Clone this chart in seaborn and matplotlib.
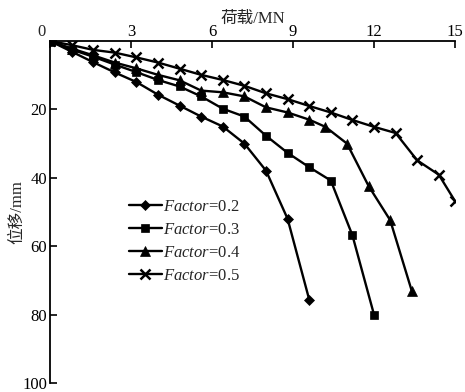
import matplotlib
matplotlib.use("Agg")
import matplotlib.pyplot as plt
import seaborn as sns
import pandas as pd

# Load (MN) vs. settlement (mm) for four reduction factors
load_02 = [0.0, 0.8, 1.6, 2.4, 3.2, 4.0, 4.8, 5.6, 6.4, 7.2, 8.0, 8.8, 9.6]
disp_02 = [0.0, 3.1, 6.2, 9.2, 12.0, 15.7, 18.9, 22.1, 25.0, 30.0, 37.9, 52.0, 75.6]

load_03 = [0.0, 0.8, 1.6, 2.4, 3.2, 4.0, 4.8, 5.6, 6.4, 7.2, 8.0, 8.8, 9.6, 10.4, 11.2, 12.0]
disp_03 = [0.0, 2.5, 4.6, 6.9, 9.1, 11.4, 13.3, 16.2, 19.8, 22.1, 27.7, 32.7, 36.9, 40.8, 56.8, 80.0]

load_04 = [0.0, 0.8, 1.6, 2.4, 3.2, 4.0, 4.8, 5.6, 6.4, 7.2, 8.0, 8.8, 9.6, 10.2, 11.0, 11.8, 12.6, 13.4]
disp_04 = [0.0, 2.2, 4.2, 6.3, 8.0, 9.9, 11.5, 14.5, 15.0, 16.2, 19.4, 20.9, 23.0, 25.1, 30.0, 42.4, 52.4, 73.1]

load_05 = [0.0, 0.8, 1.6, 2.4, 3.2, 4.0, 4.8, 5.6, 6.4, 7.2, 8.0, 8.8, 9.6, 10.4, 11.2, 12.0, 12.8, 13.6, 14.4, 15.0]
disp_05 = [0.0, 1.2, 2.6, 3.4, 4.8, 6.3, 8.1, 9.9, 11.4, 13.1, 15.3, 17.0, 19.0, 20.9, 23.1, 25.1, 26.9, 34.9, 39.1, 46.8]

factors = ["0.2", "0.3", "0.4", "0.5"]
x_ticks = [0, 3, 6, 9, 12, 15]
y_ticks = [0, 20, 40, 60, 80, 100]

sns.set_style("white")
plt.rcParams["font.family"] = ["Liberation Serif", "Noto Sans CJK SC"]
plt.rcParams["mathtext.fontset"] = "custom"
plt.rcParams["mathtext.rm"] = "Liberation Serif"
plt.rcParams["mathtext.it"] = "Liberation Serif:italic"

series = [(load_02, disp_02), (load_03, disp_03), (load_04, disp_04), (load_05, disp_05)]
frames = []
for f, (xs, ys) in zip(factors, series):
    frames.append(pd.DataFrame({"load": xs, "disp": ys, "factor": f}))
df = pd.concat(frames, ignore_index=True)

styles = {
    "0.2": dict(marker="D", markersize=5.0, markeredgewidth=0.5),
    "0.3": dict(marker="s", markersize=6.0, markeredgewidth=0.5),
    "0.4": dict(marker="^", markersize=7.0, markeredgewidth=0.5),
    "0.5": dict(marker="x", markersize=7.0, markeredgewidth=1.8),
}

fig = plt.figure(figsize=(4.65, 3.92), dpi=100)
ax = fig.add_axes([50 / 465, 1 - 383 / 392, 405 / 465, 342 / 392])

for f in factors:
    sub = df[df["factor"] == f]
    sns.lineplot(data=sub, x="load", y="disp", ax=ax, sort=False, color="black",
                 linewidth=1.7, label=r"$\it{Factor}$=" + f, estimator=None,
                 markeredgecolor="black", **styles[f])

ax.set_xlim(0, 15)
ax.set_ylim(100, 0)
ax.xaxis.tick_top()
ax.xaxis.set_label_position("top")
ax.set_xticks(x_ticks)
ax.set_xticklabels(["" if v == 0 else str(v) for v in x_ticks])
ax.set_yticks(y_ticks)
ax.set_yticklabels(["" if v == 0 else str(v) for v in y_ticks])
ax.tick_params(axis="both", direction="in", length=5, width=1.2, labelsize=12,
               colors="black")
ax.tick_params(axis="x", top=True, bottom=False, pad=0.5)
ax.tick_params(axis="y", left=True, right=False, pad=2)

for side in ["bottom", "right"]:
    ax.spines[side].set_visible(False)
for side in ["top", "left"]:
    ax.spines[side].set_visible(True)
    ax.spines[side].set_linewidth(1.3)
    ax.spines[side].set_color("black")

ax.annotate("0", xy=(0, 0), xycoords="data", xytext=(-6, 0.5), textcoords="offset points",
            ha="center", va="bottom", fontsize=12)

ax.set_xlabel("荷载/MN", fontsize=12, labelpad=1)
ax.set_ylabel("位移/mm", fontsize=12)
ax.yaxis.set_label_coords(-25 / 405, 0.5)

leg = ax.legend(loc="upper left", bbox_to_anchor=(122 / 465, 1 - 192 / 392),
                bbox_transform=fig.transFigure, frameon=False, fontsize=12,
                handlelength=2.0, handletextpad=0.05, labelspacing=0.42,
                borderaxespad=0)

fig.savefig("out.png", dpi=100)
